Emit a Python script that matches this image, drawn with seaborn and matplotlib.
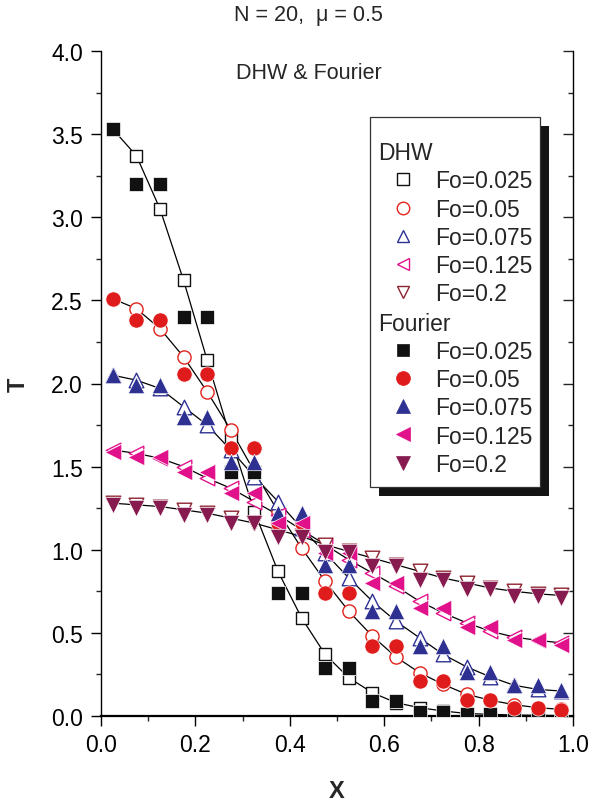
import matplotlib
matplotlib.use("Agg")
import matplotlib.pyplot as plt
import seaborn as sns
from matplotlib.lines import Line2D
from matplotlib.patches import Rectangle
from matplotlib.ticker import MultipleLocator, FormatStrFormatter

# Node positions along X
x_nodes = [0.025, 0.075, 0.125, 0.175, 0.225, 0.275, 0.325, 0.375, 0.425, 0.475,
           0.525, 0.575, 0.625, 0.675, 0.725, 0.775, 0.825, 0.875, 0.925, 0.975]

fo_labels = ["Fo=0.025", "Fo=0.05", "Fo=0.075", "Fo=0.125", "Fo=0.2"]

# DHW solution
dhw_0025 = [3.53, 3.37, 3.05, 2.62, 2.14, 1.67, 1.23, 0.87, 0.59, 0.37,
            0.23, 0.14, 0.08, 0.05, 0.03, 0.015, 0.01, 0.006, 0.004, 0.003]
dhw_005 = [2.51, 2.45, 2.33, 2.16, 1.95, 1.72, 1.47, 1.23, 1.01, 0.81,
           0.63, 0.48, 0.355, 0.26, 0.19, 0.13, 0.095, 0.068, 0.05, 0.04]
dhw_0075 = [2.05, 2.02, 1.97, 1.86, 1.75, 1.60, 1.44, 1.29, 1.13, 0.98,
            0.83, 0.69, 0.57, 0.47, 0.37, 0.295, 0.235, 0.185, 0.16, 0.15]
dhw_0125 = [1.60, 1.58, 1.55, 1.50, 1.43, 1.37, 1.29, 1.21, 1.12, 1.03,
            0.94, 0.86, 0.78, 0.69, 0.62, 0.56, 0.51, 0.475, 0.455, 0.44]
dhw_02 = [1.28, 1.27, 1.26, 1.24, 1.22, 1.19, 1.16, 1.12, 1.08, 1.03,
          0.99, 0.95, 0.91, 0.87, 0.83, 0.80, 0.77, 0.75, 0.735, 0.725]

# Fourier solution
four_0025 = [3.53, 3.20, 3.20, 2.40, 2.40, 1.47, 1.47, 0.74, 0.74, 0.29,
             0.29, 0.09, 0.09, 0.025, 0.025, 0.012, 0.012, 0.004, 0.004, 0.002]
four_005 = [2.51, 2.38, 2.38, 2.06, 2.06, 1.61, 1.61, 1.16, 1.16, 0.74,
            0.74, 0.42, 0.42, 0.21, 0.21, 0.095, 0.095, 0.05, 0.05, 0.035]
four_0075 = [2.05, 1.99, 1.99, 1.80, 1.80, 1.53, 1.53, 1.22, 1.22, 0.91,
             0.91, 0.63, 0.63, 0.42, 0.42, 0.265, 0.265, 0.185, 0.185, 0.155]
four_0125 = [1.59, 1.56, 1.56, 1.47, 1.47, 1.34, 1.34, 1.16, 1.16, 0.98,
             0.98, 0.80, 0.80, 0.65, 0.65, 0.535, 0.535, 0.455, 0.455, 0.43]
four_02 = [1.27, 1.25, 1.25, 1.21, 1.21, 1.16, 1.16, 1.075, 1.075, 0.985,
           0.985, 0.90, 0.90, 0.82, 0.82, 0.765, 0.765, 0.72, 0.72, 0.71]

dhw_series = [dhw_0025, dhw_005, dhw_0075, dhw_0125, dhw_02]
four_series = [four_0025, four_005, four_0075, four_0125, four_02]

open_colors = ["#111111", "#e3231c", "#2e3192", "#e2148c", "#8e2330"]
fill_colors = ["#111111", "#e01b1b", "#2e3192", "#e0118a", "#871a4f"]
markers = ["s", "o", "^", "<", "v"]
open_sizes = [66, 90, 110, 110, 110]
fill_sizes = [90, 120, 140, 140, 140]

sns.set_theme(style="white")
plt.rcParams["font.family"] = ["Liberation Sans", "DejaVu Sans"]

fig = plt.figure(figsize=(5.92, 8.04), dpi=100)
ax = fig.add_axes([101 / 592, 87 / 804, 472 / 592, 665 / 804])

for ys in dhw_series:
    sns.lineplot(x=x_nodes, y=ys, color="black", linewidth=0.9, ax=ax,
                 estimator=None, sort=False, zorder=1)

for ys, c, m, s in zip(dhw_series, open_colors, markers, open_sizes):
    sns.scatterplot(x=x_nodes, y=ys, marker=m, s=s, color="white", edgecolor=c,
                    linewidth=1.0, ax=ax, zorder=2, legend=False)

for ys, c, m, s in zip(four_series, fill_colors, markers, fill_sizes):
    sns.scatterplot(x=x_nodes, y=ys, marker=m, s=s, color=c, edgecolor="white",
                    linewidth=0.5, ax=ax, zorder=3, legend=False)

ax.set_xlim(0, 1.0)
ax.set_ylim(0, 4.0)
ax.xaxis.set_major_locator(MultipleLocator(0.2))
ax.xaxis.set_minor_locator(MultipleLocator(0.1))
ax.yaxis.set_major_locator(MultipleLocator(0.5))
ax.yaxis.set_minor_locator(MultipleLocator(0.25))
ax.xaxis.set_major_formatter(FormatStrFormatter("%.1f"))
ax.yaxis.set_major_formatter(FormatStrFormatter("%.1f"))

ax.spines["top"].set_visible(False)
ax.spines["right"].set_visible(False)
ax.spines["bottom"].set_linewidth(1.6)
ax.spines["left"].set_linewidth(1.0)
for sp in ("bottom", "left"):
    ax.spines[sp].set_color("black")

ax.tick_params(axis="both", which="major", direction="out", length=7, width=1.0,
               labelsize=16.5, colors="black", bottom=True, left=True)
ax.tick_params(axis="both", which="minor", direction="out", length=3.8, width=1.0,
               bottom=True, left=True)
ax.tick_params(axis="y", which="major", pad=6)
ax.tick_params(axis="x", which="major", pad=5)

# right-hand axis with inward ticks and no labels
sec = ax.secondary_yaxis("right")
sec.yaxis.set_major_locator(MultipleLocator(0.5))
sec.yaxis.set_minor_locator(MultipleLocator(0.25))
sec.tick_params(axis="y", which="major", direction="in", length=7, width=1.0,
                labelright=False)
sec.tick_params(axis="y", which="minor", direction="in", length=3.8, width=1.0)
sec.spines["right"].set_linewidth(1.0)
sec.spines["right"].set_color("black")

ax.set_xlabel("X", fontsize=17, fontweight="bold")
ax.set_ylabel("T", fontsize=17, fontweight="bold")
ax.xaxis.set_label_coords(0.5, -0.095)
ax.yaxis.set_label_coords(-0.15, 0.5)

fig.text(308 / 592, 1 - 16 / 804, "N = 20,  \u03bc = 0.5", ha="center", va="center",
         fontsize=15.5)
ax.text(0.44, 0.968, "DHW & Fourier", transform=ax.transAxes, ha="center",
        va="center", fontsize=15.5)

# legend frame with a solid drop shadow
fx0, fx1 = 0.570, 0.930
fy0, fy1 = 0.344, 0.901
dx, dy = 9 / 472, 9 / 665
ax.add_patch(Rectangle((fx0 + dx, fy0 - dy), fx1 - fx0, fy1 - fy0,
                       transform=ax.transAxes, facecolor="#141414",
                       edgecolor="none", zorder=4, clip_on=False))
ax.add_patch(Rectangle((fx0, fy0), fx1 - fx0, fy1 - fy0, transform=ax.transAxes,
                       facecolor="white", edgecolor="#333333", linewidth=0.9,
                       zorder=4.1, clip_on=False))

open_handles = [Line2D([], [], ls="none", marker=m, ms=9 if m != "s" else 8,
                       mfc="white", mec=c, mew=1.0)
                for c, m in zip(open_colors, markers)]
fill_handles = [Line2D([], [], ls="none", marker=m, ms=10 if m != "s" else 8.5,
                       mfc=c, mec=c, mew=0.5)
                for c, m in zip(fill_colors, markers)]

leg_kw = dict(loc="upper left", bbox_transform=ax.transAxes, frameon=False,
              alignment="left", borderpad=0, borderaxespad=0, handlelength=2.2,
              handletextpad=0.3, labelspacing=0.22, fontsize=16.5,
              title_fontsize=16.5)
leg1 = ax.legend(open_handles, fo_labels, title="DHW",
                 bbox_to_anchor=(0.587, 0.864), **leg_kw)
leg1.set_zorder(5)
ax.add_artist(leg1)
leg2 = ax.legend(fill_handles, fo_labels, title="Fourier",
                 bbox_to_anchor=(0.587, 0.607), **leg_kw)
leg2.set_zorder(5)

fig.savefig("out.png", dpi=100)
